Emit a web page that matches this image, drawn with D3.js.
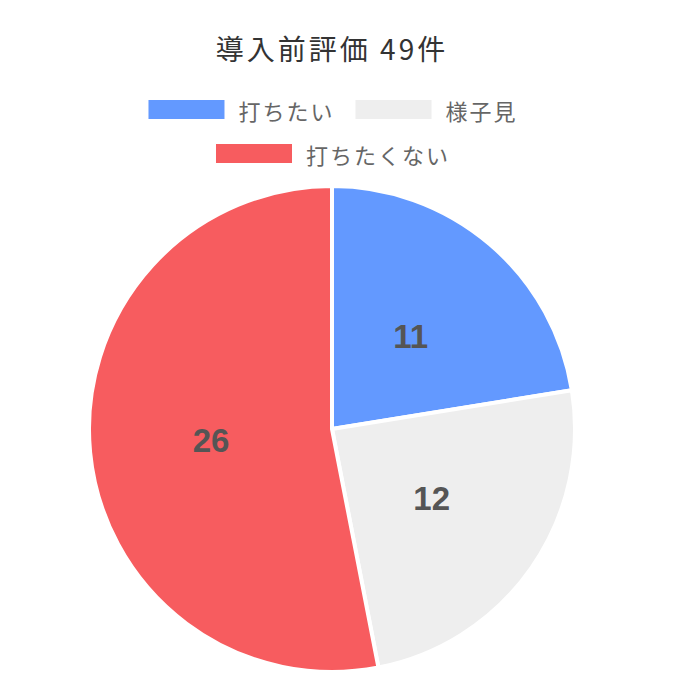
<!DOCTYPE html>
<html><head><meta charset="utf-8">
<script src="https://cdn.jsdelivr.net/npm/d3@7"></script>
<style>body{margin:0;background:#fff;} text{font-family:"Noto Sans CJK JP","Liberation Sans",sans-serif;}</style>
</head><body>
<svg id="c" width="680" height="700"></svg>
<script>
const title = "導入前評価 49件";
const categories = ["打ちたい", "様子見", "打ちたくない"];
const values = [11, 12, 26];
const colors = ["#6399ff", "#eeeeee", "#f75c5f"];

const svg = d3.select("#c");
const cx = 332, cy = 429, R = 243;

const tt = svg.append("text").attr("x", 332).attr("y", 48)
  .attr("text-anchor", "middle").attr("dominant-baseline", "central")
  .attr("fill", "#333").style("font-size", "28px").style("letter-spacing", "3px").text(title);

// legend
const rows = [[0, 1], [2]];
const rowY = [109.5, 153.5];
const boxW = 76, boxH = 19, gapBT = 14, gapItem = 23;
rows.forEach((row, ri) => {
  const g = svg.append("g");
  let x = 0;
  row.forEach((i, k) => {
    g.append("rect").attr("x", x).attr("y", rowY[ri] - boxH / 2).attr("width", boxW).attr("height", boxH).attr("fill", colors[i]);
    const t = g.append("text").attr("x", x + boxW + gapBT).attr("y", rowY[ri])
      .attr("dominant-baseline", "central").attr("fill", "#666")
      .style("font-size", "22px").style("letter-spacing", "2px").text(categories[i]);
    x += boxW + gapBT + t.node().getComputedTextLength() - 2;
    if (k < row.length - 1) x += gapItem;
  });
  g.attr("transform", `translate(${332 - x / 2},0)`);
});

const pie = d3.pie().sort(null).value(d => d)(values);
const arc = d3.arc().innerRadius(0).outerRadius(R);
const labelArc = d3.arc().innerRadius(R / 2).outerRadius(R / 2);
const pg = svg.append("g").attr("transform", `translate(${cx},${cy})`);
pg.selectAll("path").data(pie).join("path")
  .attr("d", arc).attr("fill", (d, i) => colors[i])
  .attr("stroke", "#fff").attr("stroke-width", 4).attr("stroke-linejoin", "round");
pg.selectAll("text.v").data(pie).join("text").attr("class", "v")
  .attr("transform", d => `translate(${labelArc.centroid(d)})`)
  .attr("text-anchor", "middle").attr("dominant-baseline", "central")
  .attr("fill", "#555").style("font-family", "'Liberation Sans',Arial,sans-serif")
  .style("font-weight", "bold").style("font-size", "33px").text(d => d.data);
</script>
</body></html>
